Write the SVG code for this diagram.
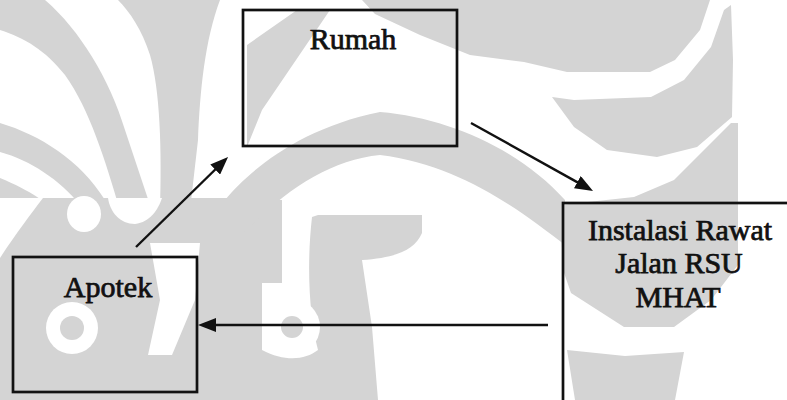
<svg xmlns="http://www.w3.org/2000/svg" width="787" height="400" viewBox="0 0 787 400">
  <style>
    .wm { fill: #d4d4d4; stroke: none; }
    .wmw { fill: #ffffff; stroke: none; }
    .box { fill: none; stroke: #111; stroke-width: 2.7; }
    .lbl { font-family: "Liberation Serif", "Times New Roman", serif; font-size: 30px; fill: #111; stroke: #111; stroke-width: 0.75; text-anchor: middle; }
    .edge { stroke: #111; stroke-width: 2.4; fill: none; }
  </style>
  <defs>
    <marker id="head" viewBox="0 0 18 14" markerWidth="18" markerHeight="14" refX="8" refY="7" orient="auto" markerUnits="userSpaceOnUse">
      <path d="M0,0 L18,7 L0,14 Z" fill="#111"/>
    </marker>
  </defs>

  <rect width="787" height="400" fill="#ffffff"/>

  <!-- faint background emblem -->
  <g id="emblem">
    <path class="wm" d="M0,0 L45,0 C80,30 110,80 125,130 L150,205 L120,210 C105,160 90,110 65,75 C45,50 25,38 0,30 Z"/>
    <path class="wm" d="M118,0 L220,0 C205,40 200,90 198,140 L190,210 L160,210 C162,150 160,90 150,55 C142,30 130,12 118,0 Z"/>
    <path class="wm" d="M0,123 C40,135 80,160 105,200 L80,205 C60,180 30,160 0,152 Z"/>
    <path class="wm" d="M0,178 C30,190 50,205 60,215 L0,215 Z"/>
    <path class="wm" d="M0,198 L262,198 L262,400 L0,400 Z"/>
    <path class="wmw" d="M0,198 L43,198 C30,215 15,235 0,258 Z"/>
    <ellipse class="wmw" cx="84" cy="214" rx="17" ry="18"/>
    <path class="wmw" d="M108,198 L162,198 C158,210 150,222 135,224 C120,224 110,212 108,198 Z"/>
    <circle class="wmw" cx="72" cy="328" r="26"/>
    <circle class="wm" cx="72" cy="328" r="12"/>
    <path class="wmw" d="M150,243 L200,243 L195,300 L172,355 L148,355 L160,300 Z"/>
    <path class="wm" d="M225,200 C250,170 300,128 380,112 C450,118 520,150 565,200 L565,245 C520,210 460,165 380,155 C330,160 285,190 245,232 Z"/>
    <path class="wm" d="M262,200 L282,200 L282,283 L262,283 Z"/>
    <path class="wm" d="M318,215 L422,215 L422,233 C415,250 395,258 362,260 L372,327 L378,400 L262,400 L262,350 C285,362 305,360 318,350 C310,320 306,270 312,217 Z"/>
    <circle class="wmw" cx="292" cy="327" r="28"/>
    <circle class="wm" cx="292" cy="327" r="11"/>
    <path class="wm" d="M247,45 L297,10 L330,10 L262,110 L247,147 Z"/>
    <path class="wm" d="M362,0 L710,0 L700,30 L675,60 L650,72 L567,72 L524,62 L470,55 L420,35 L375,14 Z"/>
    <path class="wm" d="M552,97 L574,100 L651,97 L684,80 L711,47 L724,10 L731,5 L733,60 L732,117 L697,147 L657,157 L607,150 L574,127 Z"/>
    <path class="wm" d="M560,205 L634,197 L674,180 L707,147 L731,123 L738,123 L738,265 L711,300 L674,327 L624,327 L571,293 L563,270 Z"/>
    <path class="wm" d="M567,350 L625,356 L684,352 L675,400 L575,400 Z"/>
  </g>

  <!-- nodes -->
  <g id="rumah">
    <rect class="box" x="243" y="10" width="214" height="136"/>
    <text class="lbl" x="353" y="49">Rumah</text>
  </g>
  <g id="apotek">
    <rect class="box" x="13" y="257" width="184" height="135"/>
    <text class="lbl" x="108" y="297">Apotek</text>
  </g>
  <g id="instalasi">
    <rect class="box" x="563" y="203" width="260" height="220"/>
    <text class="lbl" x="680" y="240">Instalasi Rawat</text>
    <text class="lbl" x="679" y="273">Jalan RSU</text>
    <text class="lbl" x="678" y="307">MHAT</text>
  </g>

  <!-- connectors -->
  <g id="connectors">
    <line class="edge" x1="136" y1="247" x2="220.9" y2="164" marker-end="url(#head)"/>
    <line class="edge" x1="471" y1="123" x2="584.3" y2="186.1" marker-end="url(#head)"/>
    <line class="edge" x1="548" y1="325" x2="208" y2="325" marker-end="url(#head)"/>
  </g>
</svg>
